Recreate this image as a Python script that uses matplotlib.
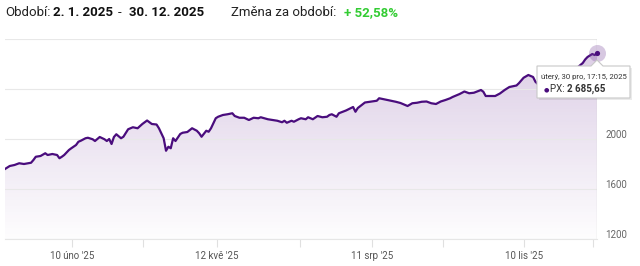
import matplotlib
matplotlib.use("Agg")
import matplotlib.pyplot as plt
import numpy as np
from matplotlib.patches import Polygon
from matplotlib.transforms import ScaledTranslation

# ---- data (trading-session index, PX close) ----
session = [0, 2, 4, 6, 8, 11, 12, 13, 15, 17, 18, 20, 22, 23, 24, 25, 27, 28, 30, 31,
           32, 34, 35, 37, 38, 40, 42, 43, 44, 45, 46, 47, 49, 50, 52, 54, 56, 58, 60, 62,
           64, 65, 67, 68, 69, 70, 71, 72, 74, 75, 77, 79, 81, 82, 83, 85, 86, 87, 89, 90,
           92, 94, 96, 97, 99, 101, 103, 105, 107, 108, 111, 113, 115, 117, 118, 119, 121, 122, 124, 125,
           127, 128, 130, 132, 134, 136, 137, 138, 140, 141, 144, 147, 148, 149, 152, 155, 157, 158, 160, 163,
           165, 167, 168, 170, 172, 174, 176, 178, 180, 182, 184, 186, 188, 189, 190, 192, 194, 196, 198, 201,
           202, 203, 206, 207, 209, 211, 213, 216, 217, 219, 221, 223, 224, 225, 227, 229, 232, 235, 239, 241,
           242, 244, 245, 246, 248, 249, 250]
px_value = [1760, 1784, 1792, 1806, 1800, 1810, 1832, 1858, 1864, 1886, 1872, 1880, 1872, 1846, 1858, 1872, 1912, 1926, 1952, 1978,
            1986, 2006, 2010, 1998, 1984, 2016, 1998, 1984, 2000, 1960, 2016, 2038, 2006, 2018, 2078, 2094, 2086, 2120, 2148, 2120,
            2116, 2086, 2006, 1906, 1938, 1926, 2006, 1984, 2040, 2050, 2056, 2086, 2066, 2046, 2018, 2066, 2058, 2086, 2166, 2178,
            2192, 2198, 2206, 2184, 2170, 2170, 2152, 2170, 2166, 2174, 2158, 2152, 2146, 2134, 2146, 2130, 2146, 2138, 2158, 2166,
            2158, 2174, 2158, 2184, 2174, 2178, 2192, 2198, 2178, 2206, 2228, 2256, 2218, 2248, 2292, 2300, 2306, 2326, 2318, 2306,
            2298, 2288, 2280, 2264, 2286, 2290, 2298, 2300, 2286, 2280, 2300, 2312, 2326, 2336, 2344, 2360, 2380, 2366, 2370, 2392,
            2378, 2344, 2344, 2344, 2364, 2392, 2416, 2428, 2446, 2490, 2512, 2496, 2458, 2440, 2416, 2448, 2472, 2504, 2536, 2552,
            2576, 2608, 2636, 2656, 2680, 2672, 2685.65]

xtick_pos = [28.3, 58.3, 89.6, 124.6, 155.0, 185.0, 219.2, 248.3]
xtick_labels = ["10 úno '25", "", "12 kvě '25", "", "11 srp '25", "", "10 lis '25", ""]
ytick_pos = [1200, 1600, 2000, 2400, 2800]
ytick_labels = ["1200", "1600", "2000", "2400", ""]

header_parts = [("Období:", "normal", "#222222"), ("2. 1. 2025", "bold", "#111111"),
                ("-", "normal", "#222222"), ("30. 12. 2025", "bold", "#111111"),
                ("Změna za období:", "normal", "#222222"), ("+ 52,58%", "bold", "#33cc33")]
tooltip_date = "úterý, 30 pro, 17:15, 2025"
tooltip_series = "PX: "
tooltip_value = "2 685,65"

# ---- figure ----
plt.rcParams["font.family"] = ["Roboto", "DejaVu Sans"]
W, H = 640, 266
fig = plt.figure(figsize=(W / 100, H / 100), dpi=100)
fig.patch.set_facecolor("white")

ax = fig.add_axes([5 / W, (H - 239) / H, 592 / W, 200 / H])
ax.set_xlim(0, 250)
ax.set_ylim(1200, 2800)

line_color = "#4a0d7d"
x = np.array(session, dtype=float)
y = np.array(px_value, dtype=float)

# gradient fill under the line
grad = np.linspace(0.26, 0.01, 256).reshape(-1, 1)
rgba = np.zeros((256, 1, 4))
rgba[..., 0] = 0.45
rgba[..., 1] = 0.22
rgba[..., 2] = 0.60
rgba[..., 3] = grad
im = ax.imshow(rgba, extent=[0, 250, 1200, 2800], aspect="auto", origin="upper", zorder=1)
verts = np.vstack([[x[0], 1200], np.column_stack([x, y]), [x[-1], 1200]])
clip = Polygon(verts, closed=True, transform=ax.transData, facecolor="none", edgecolor="none")
ax.add_patch(clip)
im.set_clip_path(clip)

ax.plot(x, y, color=line_color, lw=1.6, zorder=3, solid_joinstyle="round")

# crosshair, halo and point
ax.axvline(x[-1], color="#cccccc", lw=0.9, zorder=2)
ax.scatter([x[-1]], [y[-1]], s=150, color="#7b4a9e", alpha=0.3, zorder=4, clip_on=False, linewidths=0)
ax.scatter([x[-1]], [y[-1]], s=14, color=line_color, zorder=5, clip_on=False, linewidths=0)

# grid / axes styling
ax.set_yticks(ytick_pos)
ax.set_yticklabels(ytick_labels)
ax.yaxis.tick_right()
ax.tick_params(axis="y", length=0, pad=6, labelsize=7, labelcolor="#666666")
for lab in ax.get_yticklabels():
    lab.set_transform(lab.get_transform() + ScaledTranslation(0, 5 / 100, fig.dpi_scale_trans))
ax.grid(axis="y", color="#e8e8e8", lw=0.8, zorder=0)
ax.set_xticks(xtick_pos)
ax.set_xticklabels(xtick_labels)
ax.tick_params(axis="x", length=6, width=0.8, color="#e0e0e0", pad=2.5, labelsize=7, labelcolor="#555555")
for side in ["top", "right", "left"]:
    ax.spines[side].set_visible(False)
ax.spines["bottom"].set_color("#e6e6e6")
ax.spines["bottom"].set_linewidth(0.8)
ax.set_facecolor("none")

# ---- overlay in pixel coordinates for header and tooltip ----
ov = fig.add_axes([0, 0, 1, 1], zorder=10)
ov.set_xlim(0, W)
ov.set_ylim(H, 0)
ov.axis("off")
ov.patch.set_alpha(0)

header_x = [5, 53, 118, 129, 231, 344]
for (txt, wt, col), hx in zip(header_parts, header_x):
    ov.text(hx, 13, txt, fontsize=9.5, fontweight=wt, color=col, va="center", ha="left")

# tooltip box with caret
tx0, ty0, tx1, ty1 = 537, 66, 630, 98
shadow = Polygon([(tx0 + 1.5, ty0 + 1.5), (tx1 + 1.5, ty0 + 1.5), (tx1 + 1.5, ty1 + 1.5), (tx0 + 1.5, ty1 + 1.5)],
                 closed=True, facecolor="#000000", alpha=0.08, edgecolor="none")
ov.add_patch(shadow)
box = Polygon([(tx0, ty0), (591, ty0), (597, 60), (603, ty0), (tx1, ty0), (tx1, ty1), (tx0, ty1)],
              closed=True, facecolor="white", edgecolor="#c8c8c8", lw=0.8)
ov.add_patch(box)
ov.text(541, 77, tooltip_date, fontsize=5.6, color="#333333", va="center", ha="left")
ov.text(544, 89.5, "●", fontsize=4.5, color=line_color, va="center", ha="left")
t1 = ov.text(550, 89, tooltip_series, fontsize=7, color="#333333", va="center", ha="left")
ov.annotate(tooltip_value, xy=(1, 0.5), xycoords=t1, fontsize=7, fontweight="bold",
            color="#333333", va="center", ha="left")

fig.savefig("out.png", dpi=100, facecolor="white")
